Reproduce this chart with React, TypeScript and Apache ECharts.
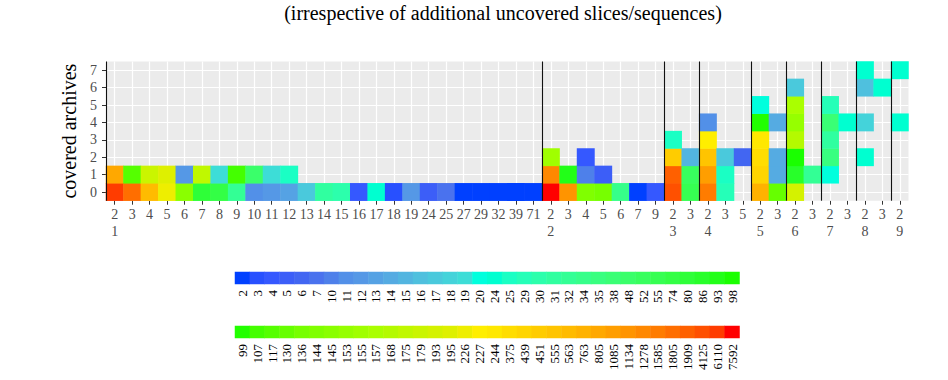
import { useEffect, useRef } from 'react';
import * as echarts from 'echarts';

const FONT = '"Liberation Serif", "Times New Roman", serif';

const titleText = '(irrespective of additional uncovered slices/sequences)';
const yAxisTitle = 'covered archives';
const coveredLevels = ['0', '1', '2', '3', '4', '5', '6', '7'];

// Legend keys (fill levels), split over two rows
const legendLow = [2, 3, 4, 5, 6, 7, 10, 11, 12, 13, 14, 15, 16, 17, 18, 19, 20, 24, 25, 29, 30, 31, 32, 34, 35, 38, 48, 52, 55, 74, 80, 86, 93, 98];
const legendHigh = [99, 107, 117, 130, 136, 144, 145, 153, 155, 157, 168, 175, 179, 193, 195, 226, 227, 244, 375, 439, 451, 555, 563, 763, 805, 1085, 1134, 1278, 1585, 1805, 1909, 4125, 6110, 7592];

// One colour per level, blue -> cyan -> green -> yellow -> red
const fillPalette = [
  '#0040FF', '#2850FF', '#3558FF', '#3C5EF8', '#4266F2', '#4A72EE', '#4E80EA', '#5290E8', '#5598E6', '#55A2E4',
  '#55ABE2', '#52B5E0', '#4FC0DE', '#4AC9DC', '#44D3DA', '#3DDDD7', '#00FFDD', '#00FFD0', '#1AFFC4', '#25FFB8',
  '#2CFFAC', '#30FFA0', '#33FF95', '#36FF8A', '#38FF80', '#3AFF75', '#3AFF6A', '#38FF5E', '#36FF52', '#33FF45',
  '#2EFF38', '#28FF2A', '#22FF18', '#1AFF00',
  '#22FF00', '#44FF00', '#55FF00', '#66FF00', '#77FF00', '#80FF00', '#8AFF00', '#96FF00', '#A0FF00', '#AAFF00',
  '#B4FA00', '#C0F800', '#CAF500', '#D4F200', '#DEF000', '#EEEE00', '#FFEE00', '#FFE800', '#FFDD00', '#FFD500',
  '#FFCC00', '#FFC400', '#FFBB00', '#FFB200', '#FFA800', '#FF9E00', '#FF9400', '#FF8800', '#FF7C00', '#FF6E00',
  '#FF6000', '#FF5000', '#FF3C00', '#FF0000',
];

// Groups along the x axis and the slice counts inside each group
const groupNames = ['1', '2', '3', '4', '5', '6', '7', '8', '9'];
const slicesG1 = [2, 3, 4, 5, 6, 7, 8, 9, 10, 11, 12, 13, 14, 15, 16, 17, 18, 19, 24, 25, 27, 29, 32, 39, 71];
const slicesG2 = [2, 3, 4, 5, 6, 7, 9];
const slicesG3 = [2, 3];
const slicesG4 = [2, 3, 5];
const slicesG5 = [2, 3];
const slicesG6 = [2, 3];
const slicesG7 = [2, 3];
const slicesG8 = [2, 3];
const slicesG9 = [2];

// Counts per column; position in the inner array = number of covered archives
type Col = (number | null)[];
const countsG1: Col[] = [
  [6110, 805], [1805, 117], [563, 179], [226, 195], [145, 12], [80, 175], [74, 19], [32, 107],
  [11, 48], [12, 19], [13, 25], [17], [31], [30], [4], [24], [3], [12], [5], [7], [2], [2], [2], [2], [2],
];
const countsG2: Col[] = [[7592, 1278, 155], [1134, 93], [144, 10, 4], [136, 5], [34], [2], [4]];
const countsG3: Col[] = [[4125, 1909, 451, 25], [55, 52, 15]];
const countsG4: Col[] = [[1585, 1085, 555, 227, 11], [29, 25, 17], [null, null, 6]];
const countsG5: Col[] = [[763, 439, 375, 244, 99, 20], [130, 14, 14, null, 14]];
const countsG6: Col[] = [[193, 86, 98, 168, 153, 157, 17], [null, 32]];
const countsG7: Col[] = [[null, 20, 35, 31, 38, 29], [null, null, null, null, 24]];
const countsG8: Col[] = [[null, null, 24, null, 18, null, 16, 24], [null, null, null, null, null, null, 24]];
const countsG9: Col[] = [[null, null, null, null, 24, null, null, 24]];

const groupSlices = [slicesG1, slicesG2, slicesG3, slicesG4, slicesG5, slicesG6, slicesG7, slicesG8, slicesG9];
const groupCounts = [countsG1, countsG2, countsG3, countsG4, countsG5, countsG6, countsG7, countsG8, countsG9];

function buildOption() {
  const levels = [...legendLow, ...legendHigh];
  const xCats: string[] = [];
  const labels: string[] = [];
  const groupStarts: number[] = [];
  const heatData: number[][] = [];

  groupSlices.forEach((slices, gi) => {
    groupStarts.push(xCats.length);
    slices.forEach((s, si) => {
      const col = xCats.length;
      xCats.push(`${groupNames[gi]}:${s}`);
      labels.push(si === 0 ? `${s}\n${groupNames[gi]}` : `${s}`);
      groupCounts[gi][si].forEach((v, row) => {
        if (v != null) heatData.push([col, row, levels.indexOf(v)]);
      });
    });
  });

  const gridLines: any[] = [];
  xCats.forEach((_, i) => gridLines.push({ xAxis: i + 0.5 }));
  coveredLevels.forEach((_, j) => gridLines.push({ yAxis: j + 0.5 }));

  const legendAxis = (gridIndex: number, values: number[]) => ({
    type: 'category',
    gridIndex,
    data: values.map(String),
    axisLine: { show: false },
    axisTick: { show: false },
    splitLine: { show: false },
    axisLabel: { interval: 0, rotate: 90, fontSize: 13, color: '#000000', fontFamily: FONT, margin: 6 },
  });

  return {
    animation: false,
    backgroundColor: '#ffffff',
    tooltip: { show: false },
    graphic: [
      {
        type: 'text',
        x: 503,
        y: 13,
        silent: true,
        style: { text: titleText, align: 'center', verticalAlign: 'middle', fontSize: 20, fontFamily: FONT, fill: '#000' },
      },
    ],
    grid: [
      { left: 106, top: 61.5, width: 802.5, height: 139.2, show: true, backgroundColor: '#EBEBEB', borderWidth: 0 },
      { left: 235, top: 272, width: 504.5, height: 12 },
      { left: 235, top: 326, width: 504.5, height: 12 },
    ],
    xAxis: [
      {
        type: 'category',
        gridIndex: 0,
        data: xCats,
        axisLine: { show: false },
        splitLine: { show: false },
        axisTick: { show: true, alignWithLabel: true, interval: 0, length: 4, lineStyle: { color: '#333333' } },
        axisLabel: {
          interval: 0,
          formatter: (_v: string, idx: number) => labels[idx],
          color: '#4D4D4D',
          fontSize: 14,
          lineHeight: 17,
          fontFamily: FONT,
          margin: 5,
        },
      },
      { type: 'value', gridIndex: 0, min: 0, max: xCats.length, show: false },
      legendAxis(1, legendLow),
      legendAxis(2, legendHigh),
    ],
    yAxis: [
      {
        type: 'category',
        gridIndex: 0,
        data: coveredLevels,
        name: yAxisTitle,
        nameLocation: 'middle',
        nameGap: 23,
        nameTextStyle: { fontSize: 20, fontFamily: FONT, color: '#000' },
        axisLine: { show: false },
        splitLine: { show: false },
        axisTick: { show: true, alignWithLabel: true, interval: 0, length: 4, lineStyle: { color: '#333333' } },
        axisLabel: { interval: 0, color: '#4D4D4D', fontSize: 14, fontFamily: FONT, margin: 9 },
      },
      { type: 'value', gridIndex: 0, min: 0, max: coveredLevels.length, show: false },
      { type: 'category', gridIndex: 1, data: [''], show: false },
      { type: 'category', gridIndex: 2, data: [''], show: false },
    ],
    visualMap: {
      type: 'piecewise',
      show: false,
      dimension: 2,
      seriesIndex: [1, 3, 4],
      pieces: fillPalette.map((color, i) => ({ value: i, color })),
    },
    series: [
      {
        type: 'scatter',
        xAxisIndex: 1,
        yAxisIndex: 1,
        data: [],
        silent: true,
        markLine: {
          silent: true,
          z: 1,
          symbol: ['none', 'none'],
          label: { show: false },
          lineStyle: { color: '#ffffff', width: 1.2, type: 'solid' },
          emphasis: { disabled: true },
          data: gridLines,
        },
      },
      {
        type: 'heatmap',
        xAxisIndex: 0,
        yAxisIndex: 0,
        z: 3,
        data: heatData,
        emphasis: { disabled: true },
      },
      {
        type: 'scatter',
        xAxisIndex: 1,
        yAxisIndex: 1,
        data: [],
        silent: true,
        markLine: {
          silent: true,
          z: 6,
          symbol: ['none', 'none'],
          label: { show: false },
          lineStyle: { color: '#111111', width: 1.1, type: 'solid' },
          emphasis: { disabled: true },
          data: groupStarts.map((v) => ({ xAxis: v })),
        },
      },
      {
        type: 'heatmap',
        xAxisIndex: 2,
        yAxisIndex: 2,
        data: legendLow.map((_, i) => [i, 0, i]),
        emphasis: { disabled: true },
      },
      {
        type: 'heatmap',
        xAxisIndex: 3,
        yAxisIndex: 3,
        data: legendHigh.map((_, i) => [i, 0, legendLow.length + i]),
        emphasis: { disabled: true },
      },
    ],
  };
}

export default function App() {
  const ref = useRef<HTMLDivElement>(null);
  useEffect(() => {
    document.body.style.margin = '0';
    if (!ref.current) return;
    const chart = echarts.init(ref.current, undefined, { renderer: 'svg' });
    chart.setOption(buildOption() as any);
    return () => chart.dispose();
  }, []);
  return <div ref={ref} style={{ width: 948, height: 380 }} />;
}
